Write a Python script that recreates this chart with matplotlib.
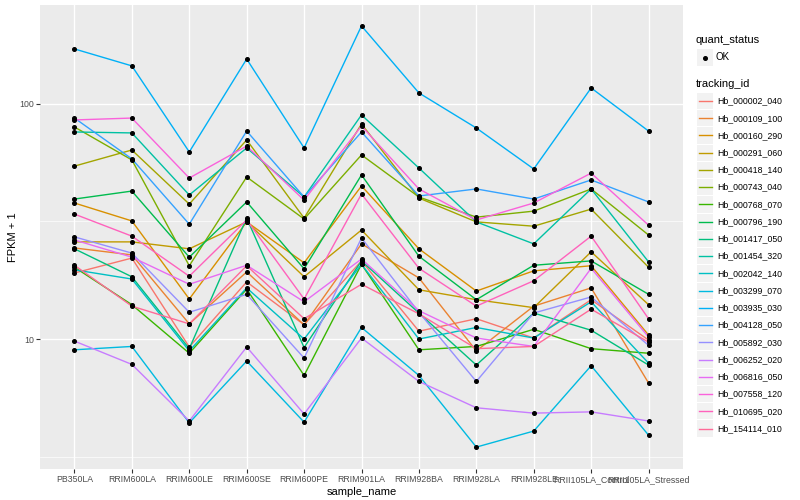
import numpy as np
import matplotlib
matplotlib.use("Agg")
import matplotlib.pyplot as plt
from matplotlib.patches import Rectangle
from matplotlib.lines import Line2D
from matplotlib.ticker import NullFormatter

plt.rcParams['font.family'] = ['Liberation Sans', 'DejaVu Sans']

samples = ["PB350LA", "RRIM600LA", "RRIM600LE", "RRIM600SE", "RRIM600PE",
           "RRIM901LA", "RRIM928BA", "RRIM928LA", "RRIM928LE",
           "RRII105LA_Control", "RRII105LA_Stressed"]

tracking_ids = ["Hb_000002_040", "Hb_000109_100", "Hb_000160_290", "Hb_000291_060",
                "Hb_000418_140", "Hb_000743_040", "Hb_000768_070", "Hb_000796_190",
                "Hb_001417_050", "Hb_001454_320", "Hb_002042_140", "Hb_003299_070",
                "Hb_003935_030", "Hb_004128_050", "Hb_005892_030", "Hb_006252_020",
                "Hb_006816_050", "Hb_007558_120", "Hb_010695_020", "Hb_154114_010"]

# FPKM + 1, one list per gene, in sample order
hb_000002_040 = [19.1, 22.1, 9.25, 17.5, 11.5, 21.5, 10.8, 12.2, 10.1, 14.7, 9.9]
hb_000109_100 = [24.4, 22.8, 11.6, 19.3, 11.5, 25.4, 18.2, 8.9, 13.8, 16.5, 6.5]
hb_000160_290 = [37.9, 31.8, 14.8, 31.5, 21.1, 44.8, 24.2, 16.0, 19.5, 20.5, 10.4]
hb_000291_060 = [25.9, 25.9, 24.2, 31.5, 18.4, 29.1, 16.2, 14.7, 13.6, 23.5, 14.0]
hb_000418_140 = [54.4, 63.7, 37.5, 70.3, 32.7, 82.2, 39.8, 31.5, 30.2, 35.7, 20.2]
hb_000743_040 = [79.8, 57.8, 20.5, 48.9, 32.4, 60.7, 40.2, 33.0, 35.0, 43.5, 27.7]
hb_000768_070 = [20.2, 14.0, 8.7, 16.3, 7.0, 20.8, 9.0, 9.3, 11.0, 9.1, 8.7]
hb_000796_190 = [39.4, 42.6, 22.3, 38.3, 19.9, 49.9, 22.5, 14.7, 20.6, 21.5, 15.5]
hb_001417_050 = [24.2, 18.4, 9.1, 32.7, 9.2, 21.5, 12.9, 7.75, 12.9, 10.9, 7.75]
hb_001454_320 = [76.0, 75.3, 41.0, 65.0, 40.2, 89.8, 53.4, 31.5, 25.4, 43.5, 21.3]
hb_002042_140 = [19.7, 18.0, 8.9, 16.5, 10.0, 20.8, 10.0, 11.2, 10.1, 14.4, 7.9]
hb_003299_070 = [9.0, 9.3, 4.4, 8.06, 4.43, 11.2, 7.0, 3.47, 4.06, 7.7, 3.9]
hb_003935_030 = [171.4, 145.2, 62.5, 155.3, 65.0, 214.8, 111.4, 79.0, 52.9, 117.0, 76.7]
hb_004128_050 = [87.1, 58.4, 30.8, 76.7, 40.2, 76.0, 40.6, 43.5, 39.4, 47.5, 38.3]
hb_005892_030 = [27.2, 23.2, 13.0, 15.5, 8.3, 26.9, 13.0, 6.6, 12.9, 15.1, 9.4]
hb_006252_020 = [9.8, 7.8, 4.48, 9.25, 4.8, 10.1, 6.6, 5.1, 4.84, 4.9, 4.48]
hb_006816_050 = [26.4, 22.3, 17.1, 20.6, 14.4, 21.9, 13.2, 10.1, 9.3, 20.0, 10.2]
hb_007558_120 = [85.5, 87.1, 48.4, 66.2, 39.0, 80.6, 43.5, 32.1, 37.9, 50.8, 30.5]
hb_010695_020 = [34.0, 27.4, 18.5, 32.1, 14.8, 41.4, 20.0, 13.8, 17.7, 27.4, 12.2]
hb_154114_010 = [20.6, 13.8, 11.6, 20.5, 12.2, 17.1, 12.8, 9.1, 9.3, 13.4, 9.7]

series = [hb_000002_040, hb_000109_100, hb_000160_290, hb_000291_060, hb_000418_140,
          hb_000743_040, hb_000768_070, hb_000796_190, hb_001417_050, hb_001454_320,
          hb_002042_140, hb_003299_070, hb_003935_030, hb_004128_050, hb_005892_030,
          hb_006252_020, hb_006816_050, hb_007558_120, hb_010695_020, hb_154114_010]


def hcl(h, c=100.0, l=65.0):
    # polar Luv -> sRGB, like ggplot's hue_pal
    h = np.radians(h)
    u, v = c * np.cos(h), c * np.sin(h)
    xn, yn, zn = 95.047, 100.0, 108.883
    y = yn * ((l + 16) / 116) ** 3
    t = xn + 15 * yn + 3 * zn
    up = u / (13 * l) + 4 * xn / t
    vp = v / (13 * l) + 9 * yn / t
    x = 9 * y * up / (4 * vp)
    z = -x / 3 - 5 * y + 3 * y / vp
    m = np.array([[3.240479, -1.537150, -0.498535],
                  [-0.969256, 1.875992, 0.041556],
                  [0.055648, -0.204043, 1.057311]])
    rgb = m @ np.array([x, y, z]) / 100
    rgb = np.where(rgb <= 0.0031308, 12.92 * rgb, 1.055 * np.abs(rgb) ** (1 / 2.4) - 0.055)
    return tuple(np.clip(rgb, 0, 1))


n = len(tracking_ids)
colors = [hcl(h) for h in np.linspace(15, 375, n + 1)[:-1]]

W, H = 800, 500
fig = plt.figure(figsize=(W / 100, H / 100), dpi=100)
ax = fig.add_axes([40 / W, 1 - 469 / H, (683 - 40) / W, (469 - 5) / H])
ax.set_facecolor('#EBEBEB')
for s in ax.spines.values():
    s.set_visible(False)

x = np.arange(len(samples))
for vals, col in zip(series, colors):
    ax.plot(x, vals, color=col, lw=1.0, zorder=2, solid_capstyle='butt')
for vals in series:
    ax.plot(x, vals, 'o', color='black', ms=2.6, zorder=3)

ax.set_yscale('log')
ax.set_ylim(2.80, 263.6)
ax.set_xlim(-0.6, len(samples) - 0.4)
ax.set_yticks([10, 100])
ax.set_yticklabels(['10', '100'])
ax.set_yticks([10 ** 0.5, 10 ** 1.5], minor=True)
ax.yaxis.set_minor_formatter(NullFormatter())
ax.set_xticks(x)
ax.set_xticklabels(samples)
ax.grid(which='major', color='white', lw=1.0)
ax.grid(which='minor', axis='y', color='white', lw=0.5)
ax.set_axisbelow(True)
ax.tick_params(which='major', length=2.9, width=0.8, color='#333333',
               labelsize=6.3, labelcolor='#4D4D4D', pad=1.5)
ax.tick_params(which='minor', length=0)
ax.set_xlabel('sample_name', fontsize=8, labelpad=2)
ax.set_ylabel('FPKM + 1', fontsize=8, labelpad=1)


def fx(px):
    return px / W


def fy(py):
    return 1 - py / H


# legend: quant_status
fig.text(fx(696), fy(40), 'quant_status', fontsize=8, va='center', ha='left')
fig.add_artist(Rectangle((fx(697), fy(66)), 16 / W, 17 / H, facecolor='#F2F2F2',
                         edgecolor='none', transform=fig.transFigure))
fig.add_artist(Line2D([fx(705)], [fy(57.5)], marker='o', ms=2.6, color='black',
                      transform=fig.transFigure))
fig.text(fx(716), fy(57.5), 'OK', fontsize=7, va='center', ha='left')

# legend: tracking_id
fig.text(fx(696), fy(84), 'tracking_id', fontsize=8, va='center', ha='left')
step = 17.24
for i, (name, col) in enumerate(zip(tracking_ids, colors)):
    yc = 101 + step * i
    fig.add_artist(Rectangle((fx(697), fy(yc + step / 2 - 0.5)), 16 / W, (step - 1) / H,
                             facecolor='#F2F2F2', edgecolor='none', transform=fig.transFigure))
    fig.add_artist(Line2D([fx(698.5), fx(711.5)], [fy(yc), fy(yc)], color=col, lw=1.0,
                          transform=fig.transFigure))
    fig.text(fx(717), fy(yc), name, fontsize=6.3, va='center', ha='left')

fig.savefig('out.png', dpi=100)
